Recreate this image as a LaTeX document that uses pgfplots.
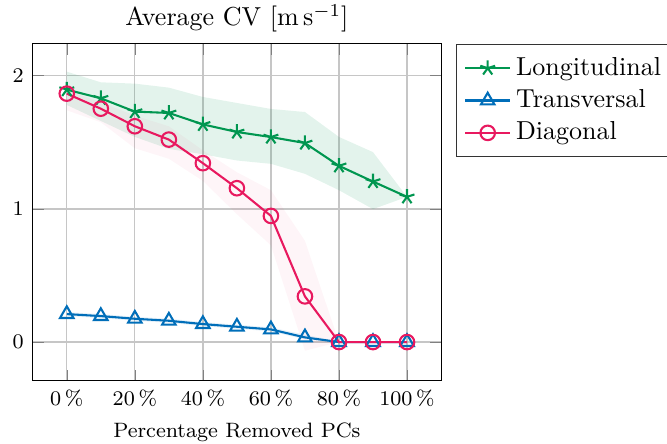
\documentclass[border=0pt]{standalone}
\usepackage{pgfplots}
\pgfplotsset{compat=1.18}
\definecolor{cgreen}{RGB}{0,150,80}
\definecolor{cblue}{RGB}{0,110,185}
\definecolor{cred}{RGB}{232,25,95}
\begin{document}
\begin{tikzpicture}
\begin{axis}[
  scale only axis,
  width=157pt, height=129.6pt,
  xmin=-10, xmax=110, ymin=-0.29, ymax=2.24,
  xtick={0,20,40,60,80,100},
  xticklabel={$\pgfmathprintnumber{\tick}\,\%$},
  ytick={0,1,2},
  grid=major,
  major grid style={gray!45, line width=0.5pt},
  ticklabel style={font=\footnotesize},
  xticklabel style={anchor=base, yshift=-9.7pt},
  label style={font=\footnotesize},
  xlabel={Percentage Removed PCs},
  xlabel style={at={(axis description cs:0.5,0)}, anchor=base, yshift=-22pt},
  title={Average CV [m\,s$^{-1}$]},
  title style={at={(axis description cs:0.5,1)}, anchor=base, yshift=1.0pt},
  legend style={at={(1.037,1)}, anchor=north west, font=\normalsize, draw=black!80, inner sep=3pt},
  legend cell align=left,
]
\coordinate (bl) at (rel axis cs:0,0);
\coordinate (tr) at (rel axis cs:1,1);
% bands
\addplot[draw=none, fill=cgreen, fill opacity=0.11, forget plot] coordinates {
(0,2.03) (10,1.95) (20,1.94) (30,1.91) (40,1.84) (50,1.795) (60,1.75) (70,1.727) (80,1.54) (90,1.426) (100,1.09)
(90,0.998) (80,1.14) (70,1.263) (60,1.338) (50,1.363) (40,1.41) (30,1.45) (20,1.54) (10,1.66) (0,1.78)} -- cycle;
\addplot[draw=none, fill=cblue, fill opacity=0.10, forget plot] coordinates {
(0,0.225) (10,0.21) (20,0.19) (30,0.175) (40,0.15) (50,0.13) (60,0.11) (70,0.055) (80,0.005) (90,0.003) (100,0.003)
(90,-0.003) (80,-0.005) (70,0.02) (60,0.08) (50,0.10) (40,0.12) (30,0.145) (20,0.16) (10,0.18) (0,0.195)} -- cycle;
\addplot[draw=none, fill=cred, fill opacity=0.045, forget plot] coordinates {
(0,1.89) (10,1.80) (20,1.70) (30,1.62) (40,1.44) (50,1.275) (60,1.14) (70,0.76) (80,0) (90,0) (100,0)
(90,0) (80,0) (70,-0.065) (60,0.726) (50,0.96) (40,1.21) (30,1.376) (20,1.455) (10,1.65) (0,1.74)} -- cycle;
% lines
\addplot[cgreen, line width=0.8pt, mark=star, mark size=3pt, mark options={line width=0.8pt}] coordinates {
(0,1.895) (10,1.83) (20,1.73) (30,1.72) (40,1.634) (50,1.577) (60,1.539) (70,1.494) (80,1.323) (90,1.205) (100,1.09)};
\addlegendentry{Longitudinal}
\addplot[cblue, line width=0.8pt, mark=triangle, mark size=3pt, mark options={line width=0.8pt}] coordinates {
(0,0.21) (10,0.195) (20,0.175) (30,0.16) (40,0.135) (50,0.115) (60,0.095) (70,0.035) (80,0) (90,0) (100,0)};
\addlegendentry{Transversal}
\addplot[cred, line width=0.8pt, mark=o, mark size=2.8pt, mark options={line width=0.8pt}] coordinates {
(0,1.865) (10,1.752) (20,1.62) (30,1.52) (40,1.343) (50,1.155) (60,0.947) (70,0.343) (80,0) (90,0) (100,0)};
\addlegendentry{Diagonal}
\end{axis}
\pgfresetboundingbox
\path ([shift={(-12.6pt,-24.3pt)}]bl) rectangle ([shift={(86.9pt,16.8pt)}]tr);
\end{tikzpicture}
\end{document}
